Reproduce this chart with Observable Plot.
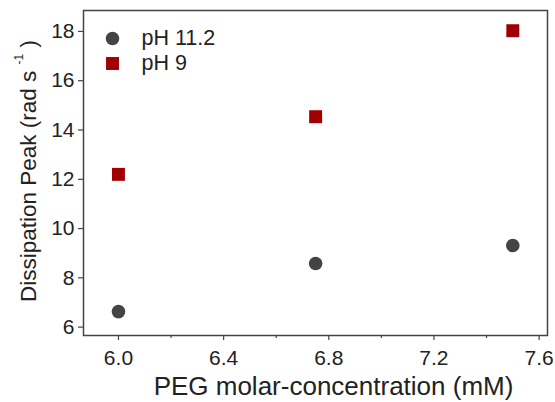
<!DOCTYPE html>
<html>
<head>
<meta charset="utf-8">
<script src="https://cdn.jsdelivr.net/npm/d3@7"></script>
<script src="https://cdn.jsdelivr.net/npm/@observablehq/plot@0.6"></script>
<style>
  html, body { margin: 0; padding: 0; background: #fff; }
  svg { font-family: "Liberation Sans", Arial, sans-serif; }
</style>
</head>
<body>
<div id="chart"></div>
<script>
const concentration = [6.0, 6.75, 7.5];
const peakPH112 = [6.63, 8.58, 9.31];
const peakPH9 = [12.2, 14.54, 18.03];
const seriesNames = ["pH 11.2", "pH 9"];
const xTicks = [6.0, 6.4, 6.8, 7.2, 7.6];
const xMinorTicks = [6.2, 6.6, 7.0, 7.4];
const yTicks = [6, 8, 10, 12, 14, 16, 18];
const xTitle = "PEG molar-concentration (mM)";
const yTitle = "Dissipation Peak (rad s";

const dataA = concentration.map((c, i) => ({x: c, y: peakPH112[i]}));
const dataB = concentration.map((c, i) => ({x: c, y: peakPH9[i]}));

const fontFamily = '"Liberation Sans", Arial, sans-serif';
const axisColor = "#444";

const chart = Plot.plot({
  width: 555,
  height: 402,
  marginLeft: 83,
  marginRight: 8,
  marginTop: 10,
  marginBottom: 67,
  style: {fontFamily, background: "#fff", overflow: "visible"},
  x: {domain: [5.867, 7.632]},
  y: {domain: [5.66, 18.85]},
  marks: [
    Plot.axisX({ticks: xMinorTicks, tickFormat: () => "", tickSize: 3, stroke: axisColor, strokeWidth: 1.2, label: null}),
    Plot.axisX({ticks: xTicks, tickFormat: d => d.toFixed(1), tickSize: 5, tickPadding: 10, fontSize: 21, fill: "#222", stroke: axisColor, strokeWidth: 1.2, label: null}),
    Plot.axisY({ticks: yTicks, tickFormat: d => String(d), tickSize: 5, tickPadding: 4, fontSize: 21, fill: "#222", stroke: axisColor, strokeWidth: 1.2, label: null}),
    Plot.frame({stroke: axisColor, strokeWidth: 1.5}),
    Plot.dot(dataA, {x: "x", y: "y", symbol: "circle", r: 6.8, fill: "#444444", stroke: null}),
    Plot.dot(dataB, {x: "x", y: "y", symbol: "square", r: 7.3, fill: "#a00000", stroke: null}),
    // legend
    Plot.dot([seriesNames[0]], {frameAnchor: "top-left", dx: 29, dy: 28, symbol: "circle", r: 6.8, fill: "#444444"}),
    Plot.dot([seriesNames[1]], {frameAnchor: "top-left", dx: 29, dy: 53, symbol: "square", r: 7.3, fill: "#a00000"}),
    Plot.text([seriesNames[0]], {text: d => d, frameAnchor: "top-left", dx: 58, dy: 28, textAnchor: "start", lineAnchor: "middle", fontSize: 21.5, fill: "#222"}),
    Plot.text([seriesNames[1]], {text: d => d, frameAnchor: "top-left", dx: 58, dy: 53, textAnchor: "start", lineAnchor: "middle", fontSize: 21.5, fill: "#222"}),
    Plot.text([xTitle], {text: d => d, frameAnchor: "bottom", dx: 18, dy: 51, lineAnchor: "middle", fontSize: 26, fill: "#222"})
  ]
});

const svg = d3.select(chart);
const t = svg.append("text")
  .attr("transform", "translate(30,171) rotate(-90)")
  .attr("text-anchor", "middle")
  .attr("dominant-baseline", "middle")
  .attr("font-size", 22.5)
  .attr("fill", "#222")
  .attr("font-family", fontFamily);
t.append("tspan").text(yTitle + " ");
t.append("tspan").attr("font-size", 12).attr("dy", -10).text("-1");
t.append("tspan").attr("dy", 10).text(" )");

document.getElementById("chart").appendChild(chart);
</script>
</body>
</html>
